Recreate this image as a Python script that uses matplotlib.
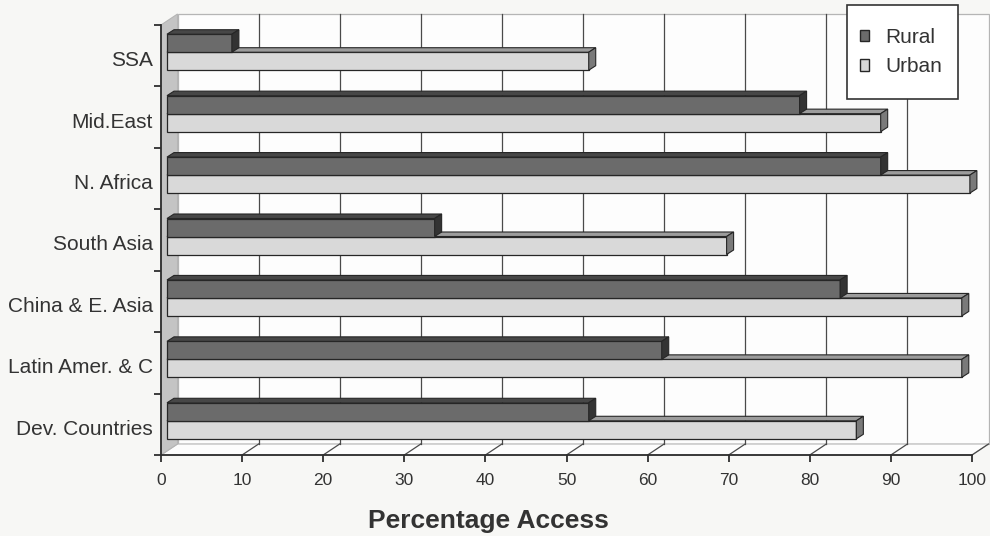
import numpy as np
import matplotlib.pyplot as plt
from matplotlib.patches import Polygon, Rectangle, Patch
from matplotlib.transforms import ScaledTranslation

## data: access to service, percent of population
regions = ["Dev. Countries", "Latin Amer. & C", "China & E. Asia", "South Asia",
           "N. Africa", "Mid.East", "SSA"]
rural = [52, 61, 83, 33, 88, 78, 8]
urban = [85, 98, 98, 69, 99, 88, 52]
xticks = list(range(0, 101, 10))

plt.rcParams['font.family'] = ['Liberation Sans', 'DejaVu Sans']

fig = plt.figure(figsize=(9.9, 5.36), dpi=100, facecolor='#f7f7f5')
ax = fig.add_axes([161/990, 81/536, 811/990, 430/536])
n = len(regions)
ax.set_xlim(0, 100)
ax.set_ylim(-0.5, n - 0.5)
ax.patch.set_visible(False)
top = n - 0.5
bot = -0.5

## sizes of the pseudo 3d look, pixels turned into data units
ux = 100 / 811
uy = n / 430
wall_dx, wall_dy = 16.5 * ux, 11 * uy
bar_x0 = 6 * ux
bar_dx, bar_dy = 7 * ux, 4.5 * uy
bar_h = 18 * uy
edge = '#b5b5b5'
ink = '#333333'

## walls and floor
ax.add_patch(Polygon([(0, bot), (wall_dx, bot + wall_dy), (wall_dx, top + wall_dy), (0, top)],
                     fc='#c4c4c4', ec=edge, lw=0.8, clip_on=False, zorder=1))
ax.add_patch(Rectangle((wall_dx, bot + wall_dy), 100, n, fc='#fdfdfd', ec=edge, lw=0.9,
                       clip_on=False, zorder=0.5))
ax.add_patch(Polygon([(0, bot), (100, bot), (100 + wall_dx, bot + wall_dy), (wall_dx, bot + wall_dy)],
                     fc='#fdfdfd', ec=edge, lw=0.8, clip_on=False, zorder=0.6))
for t in xticks[1:-1]:
    ax.plot([t + wall_dx] * 2, [bot + wall_dy, top + wall_dy], color='#4a4a4a', lw=0.9,
            clip_on=False, zorder=1)
for t in xticks[1:]:
    ax.plot([t, t + wall_dx], [bot, bot + wall_dy], color='#4a4a4a', lw=0.9,
            clip_on=False, zorder=1)

## bars with top and side faces
y = np.arange(n)
def bars3d(yc, vals, front, topc, side, z):
    ax.barh(yc, vals, height=bar_h, left=bar_x0, color=front, edgecolor='#262626',
            lw=0.9, zorder=z)
    for yy, v in zip(yc, vals):
        yt, yb = yy + bar_h / 2, yy - bar_h / 2
        x1 = bar_x0 + v
        ax.add_patch(Polygon([(bar_x0, yt), (x1, yt), (x1 + bar_dx, yt + bar_dy),
                              (bar_x0 + bar_dx, yt + bar_dy)],
                             fc=topc, ec='#262626', lw=0.8, zorder=z, clip_on=False))
        ax.add_patch(Polygon([(x1, yb), (x1, yt), (x1 + bar_dx, yt + bar_dy),
                              (x1 + bar_dx, yb + bar_dy)],
                             fc=side, ec='#262626', lw=0.8, zorder=z, clip_on=False))

bars3d(y - 5.5 * uy, urban, '#d9d9d9', '#9c9c9c', '#7a7a7a', 3)
bars3d(y + 12.5 * uy, rural, '#6b6b6b', '#474747', '#333333', 4)

## axes lines and ticks
for s in ['top', 'right']:
    ax.spines[s].set_visible(False)
for s in ['left', 'bottom']:
    ax.spines[s].set_color('#2e2e2e')
    ax.spines[s].set_linewidth(1.3)
    ax.spines[s].set_zorder(5)

ax.set_xticks(xticks)
ax.tick_params(axis='x', length=5, width=1.3, color='#2e2e2e', pad=8,
               labelsize=12.5, labelcolor=ink)
ax.set_yticks(y)
ax.set_yticklabels(regions, fontsize=15, color=ink)
ax.set_yticks(np.arange(bot, top + 0.01, 1), minor=True)
ax.tick_params(axis='y', which='major', length=0, pad=6)
ax.tick_params(axis='y', which='minor', length=5, width=1.3, color='#2e2e2e')
for lab in ax.get_yticklabels():
    lab.set_transform(lab.get_transform() + ScaledTranslation(0, -0.03, fig.dpi_scale_trans))

fig.text(488/990, 1 - 521/536, 'Percentage Access', ha='center', va='center',
         fontsize=19, fontweight='bold', color=ink)

## legend: entries plus a plain box around them
fig.add_artist(Rectangle((847/990, 1 - 99/536), 111/990, 94/536, transform=fig.transFigure,
                         fc='white', ec=ink, lw=1.2, zorder=6))
handles = [Patch(fc='#6b6b6b', ec='#262626'), Patch(fc='#d9d9d9', ec='#262626')]
leg = fig.legend(handles, ['Rural', 'Urban'], loc='upper left',
                 bbox_to_anchor=(860/990, 1 - 28/536), fontsize=15, frameon=False,
                 handlelength=0.45, handleheight=0.45, handletextpad=0.75,
                 borderpad=0, labelspacing=0.5, borderaxespad=0)
leg.set_zorder(7)
for txt in leg.get_texts():
    txt.set_color(ink)

fig.savefig('out.png', dpi=100, facecolor=fig.get_facecolor())
